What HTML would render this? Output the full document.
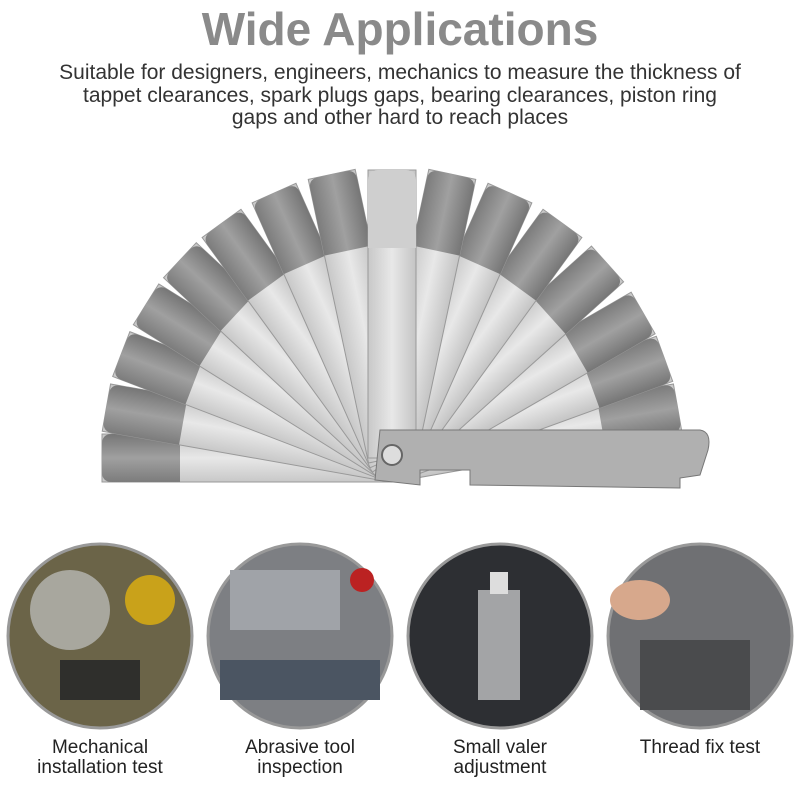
<!DOCTYPE html>
<html><head><meta charset="utf-8"><style>
html,body{margin:0;padding:0;background:#fff;}
body{width:800px;height:800px;position:relative;overflow:hidden;font-family:"Liberation Sans","DejaVu Sans",sans-serif;}
.t{position:absolute;left:0;width:800px;text-align:center;}
</style></head><body>
<div class="t" style="top:2px;font-size:46px;font-weight:bold;color:#8a8a8a;">Wide Applications</div>
<div class="t" style="top:62px;font-size:21px;line-height:22.5px;color:#333;">Suitable for designers, engineers, mechanics to measure the thickness of<br>tappet clearances, spark plugs gaps, bearing clearances, piston ring<br>gaps and other hard to reach places</div>
<svg width="800" height="800" style="position:absolute;left:0;top:0">
<defs>
<linearGradient id="bl" x1="0" x2="1"><stop offset="0" stop-color="#c8c8c8"/><stop offset=".5" stop-color="#e8e8e8"/><stop offset="1" stop-color="#c4c4c4"/></linearGradient>
<linearGradient id="tp" x1="0" x2="1"><stop offset="0" stop-color="#7c7c7c"/><stop offset=".5" stop-color="#a0a0a0"/><stop offset="1" stop-color="#767676"/></linearGradient>
<g id="b"><rect x="-24" y="-290" width="48" height="290" fill="url(#bl)" stroke="#999"/><path d="M-24,-212 L-24,-280 Q-24,-290 -14,-290 L14,-290 Q24,-290 24,-280 L24,-212Z" fill="url(#tp)"/></g>
</defs>
<g transform="translate(392,458)">
<use href="#b" transform="rotate(80)"/>
<use href="#b" transform="rotate(70)"/>
<use href="#b" transform="rotate(60)"/>
<use href="#b" transform="rotate(48)"/>
<use href="#b" transform="rotate(36)"/>
<use href="#b" transform="rotate(24)"/>
<use href="#b" transform="rotate(12)"/>
<use href="#b" transform="rotate(-90)"/>
<use href="#b" transform="rotate(-80)"/>
<use href="#b" transform="rotate(-69)"/>
<use href="#b" transform="rotate(-58)"/>
<use href="#b" transform="rotate(-47)"/>
<use href="#b" transform="rotate(-36)"/>
<use href="#b" transform="rotate(-24)"/>
<use href="#b" transform="rotate(-12)"/>
<g><rect x="-24" y="-288" width="48" height="288" fill="url(#bl)" stroke="#999"/><path d="M-24,-210 L-24,-278 Q-24,-288 -14,-288 L14,-288 Q24,-288 24,-278 L24,-210Z" fill="#cfcfcf"/></g>
</g>
<path d="M380,430 L700,430 Q712,432 708,450 L700,475 L680,478 L680,488 L470,485 L470,470 L420,470 L420,485 L375,480Z" fill="#b0b0b0" stroke="#777"/>
<circle cx="392" cy="455" r="10" fill="#ddd" stroke="#666" stroke-width="2"/>
<circle cx="100" cy="636" r="92" fill="#6b6448" stroke="#999" stroke-width="3"/>
<circle cx="70" cy="610" r="40" fill="#a8a79e"/><circle cx="150" cy="600" r="25" fill="#c9a21a"/><rect x="60" y="660" width="80" height="40" fill="#2f2f2c"/>
<circle cx="300" cy="636" r="92" fill="#7d7f83" stroke="#999" stroke-width="3"/>
<rect x="230" y="570" width="110" height="60" fill="#a0a3a8"/><rect x="220" y="660" width="160" height="40" fill="#4b5562"/><circle cx="362" cy="580" r="12" fill="#b22"/>
<circle cx="500" cy="636" r="92" fill="#2d2f33" stroke="#999" stroke-width="3"/>
<rect x="478" y="590" width="42" height="110" fill="#a3a4a6"/><rect x="490" y="572" width="18" height="22" fill="#ddd"/>
<circle cx="700" cy="636" r="92" fill="#6f7073" stroke="#999" stroke-width="3"/>
<rect x="640" y="640" width="110" height="70" fill="#4a4b4d"/><ellipse cx="640" cy="600" rx="30" ry="20" fill="#d7a88c"/>
</svg>
<div class="t" style="top:738px;left:0;width:200px;font-size:19px;line-height:20px;color:#222;">Mechanical<br>installation test</div>
<div class="t" style="top:738px;left:200px;width:200px;font-size:19px;line-height:20px;color:#222;">Abrasive tool<br>inspection</div>
<div class="t" style="top:738px;left:400px;width:200px;font-size:19px;line-height:20px;color:#222;">Small valer<br>adjustment</div>
<div class="t" style="top:738px;left:600px;width:200px;font-size:19px;line-height:20px;color:#222;">Thread fix test</div>
</body></html>
